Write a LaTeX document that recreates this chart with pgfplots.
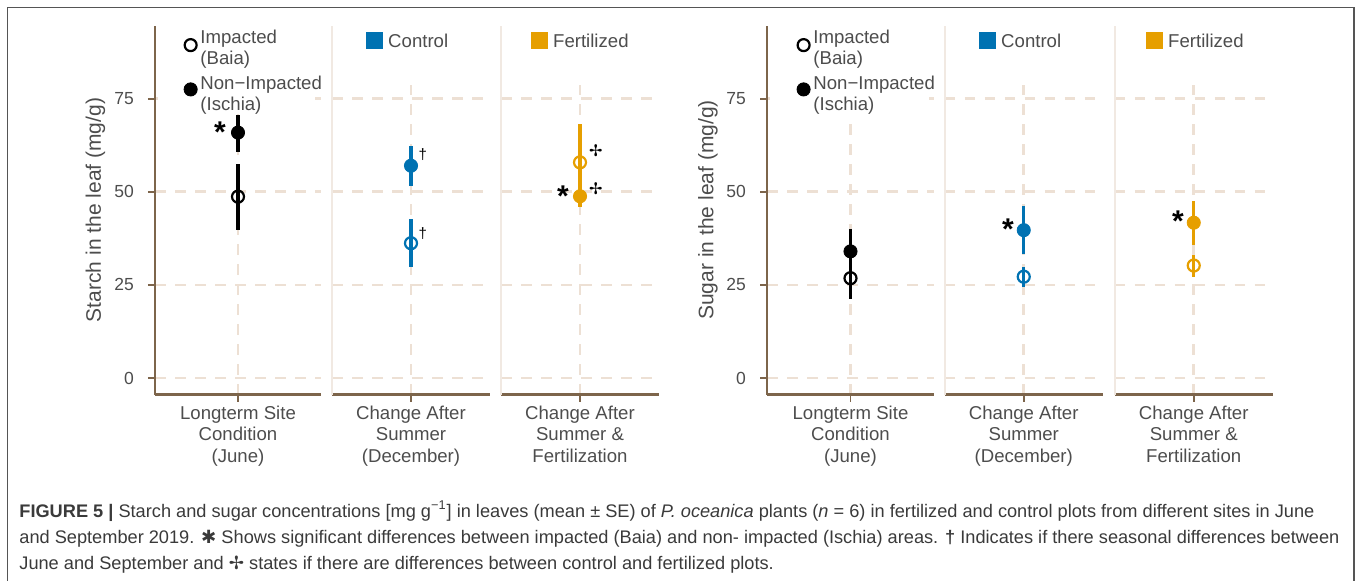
\documentclass[border=0pt]{standalone}
\usepackage{fontspec}
\setmainfont{Liberation Sans}
\newfontfamily\dejavu{DejaVu Sans}
\newfontfamily\capfont{Liberation Sans}
\usepackage{pgfplots}
\pgfplotsset{compat=1.18}

\definecolor{txt}{HTML}{4D4D4D}
\definecolor{axbrown}{HTML}{7D654B}
\definecolor{gridc}{HTML}{EDE0D4}
\definecolor{sepc}{HTML}{F1E9E2}
\definecolor{ctrl}{HTML}{0072B2}
\definecolor{fert}{HTML}{E69F00}
\definecolor{captxt}{HTML}{3A3A3A}
\definecolor{framec}{HTML}{555555}

\pgfplotsset{
  panel/.style={
    scale only axis, width=#1, height=184.35pt, anchor=south west,
    xmin=0.4, xmax=1.6, ymin=-4.48, ymax=94.52,
    axis x line*=bottom, axis y line*=left, axis line style={-},
    x axis line style={color=axbrown, line width=1.2pt},
    y axis line style={color=axbrown, line width=0.9pt},
    xtick={1}, ytick={0,25,50,75},
    tick align=outside, major tick length=3.5pt,
    tick style={color=axbrown, line width=0.9pt},
    xmajorgrids, ymajorgrids,
    major grid style={color=gridc, line width=1.3pt, dash pattern=on 5.25pt off 4.75pt},
    /pgf/number format/assume math mode=true,
    xticklabel style={align=center, font=\fontsize{9.3}{10.8}\selectfont, text=txt, yshift=1.5pt},
    yticklabel style={font=\fontsize{8.75}{10}\selectfont, text=txt, xshift=-3.5pt},
    clip=false,
    legend cell align=left,
    legend style={draw=none, fill=none, inner sep=0pt, outer sep=0pt,
      font=\fontsize{9.3}{10.5}\selectfont, text=txt, nodes={inner sep=0pt}},
  },
  inner/.style={y axis line style={color=sepc, line width=1pt},
    yticklabels={}, y tick style={draw=none}},
  ptimg/.style={legend image code/.code={\draw[##1] plot coordinates {(0pt,0pt)};}},
  ebar/.style={/pgfplots/error bars/y dir=both, /pgfplots/error bars/y explicit,
    /pgfplots/error bars/error mark=none,
    /pgfplots/error bars/error bar style={line width=1.7pt, color=#1}},
  openpt/.style={only marks, mark=o, mark size=3pt, color=#1,
    mark options={line width=1.1pt, draw=#1, fill=none}, ebar=#1},
  fullpt/.style={only marks, mark=*, mark size=3.3pt, color=#1,
    mark options={draw=#1, fill=#1}, ebar=#1},
  sitelegend/.style={legend style={at={(axis cs:#1,93.75)}, anchor=north west, row sep=8.5pt,
    /tikz/every odd column/.append style={column sep=1.6pt}}},
  trtlegend/.style={legend style={at={(axis cs:#1,92.82)}, anchor=north west,
    /tikz/every odd column/.append style={column sep=2.8pt}}},
}
\tikzset{
  star/.style={font=\fontsize{15}{15}\selectfont\bfseries, anchor=base, yshift=-8.5pt, inner sep=0pt},
  dag/.style={font=\fontsize{7.5}{8}\selectfont, anchor=center, inner sep=0pt},
  cross/.style={font=\dejavu\fontsize{8}{8}\selectfont, anchor=center, inner sep=0pt},
}

\begin{document}
\begin{tikzpicture}
\useasboundingbox (0pt,0pt) rectangle (678.5pt,290.5pt);
\draw[color=framec, line width=0.75pt] (3.75pt,-5pt) -- (3.75pt,286.75pt) -- (677pt,286.75pt) -- (677pt,-5pt);

% ---------------- Starch ----------------
\begin{axis}[panel=83pt, at={(77.5pt,93.15pt)},
  xticklabels={{Longterm Site\\Condition\\(June)}}, sitelegend=0.61]
\fill[white] (axis cs:0.42,71) rectangle (axis cs:1.55,94.52);
\addplot[forget plot, openpt=black] coordinates {(1,48.7) += (0,8.8) -= (0,9.0)};
\addplot[forget plot, fullpt=black] coordinates {(1,65.9) += (0,4.7) -= (0,5.1)};
\node[star] at (axis cs:0.87,67.9) {*};
\addlegendimage{ptimg, mark=o, mark size=3pt, black, line width=1.1pt, yshift=-1pt}
\addlegendentry{\begin{tabular}{@{}l@{}}Impacted\\(Baia)\end{tabular}}
\addlegendimage{ptimg, mark=*, mark size=3.3pt, black, yshift=-0.4pt}
\addlegendentry{\begin{tabular}{@{}l@{}}Non−Impacted\\(Ischia)\end{tabular}}
\end{axis}

\begin{axis}[panel=79pt, inner, at={(166pt,93.15pt)},
  xticklabels={{Change After\\Summer\\(December)}}, trtlegend=0.663]
\fill[white] (axis cs:0.42,78.7) rectangle (axis cs:1.6,94.52);
\addplot[forget plot, openpt=ctrl] coordinates {(1,36.2) += (0,6.4) -= (0,6.5)};
\addplot[forget plot, fullpt=ctrl] coordinates {(1,57.0) += (0,5.2) -= (0,5.4)};
\node[dag] at (axis cs:1.09,59.9) {†};
\node[dag] at (axis cs:1.09,38.9) {†};
\addlegendimage{ptimg, mark=square*, mark size=4pt, ctrl, yshift=1.05pt}
\addlegendentry{Control}
\end{axis}

\begin{axis}[panel=79pt, inner, at={(250.5pt,93.15pt)},
  xticklabels={{Change After\\Summer \&\\Fertilization}}, trtlegend=0.632]
\fill[white] (axis cs:0.42,78.7) rectangle (axis cs:1.6,94.52);
\addplot[forget plot, openpt=fert] coordinates {(1,57.9) += (0,10.4) -= (0,10.4)};
\addplot[forget plot, fullpt=fert] coordinates {(1,48.8) += (0,3.0) -= (0,3.0)};
\node[cross] at (axis cs:1.12,61.0) {✢};
\node[cross] at (axis cs:1.12,50.8) {✢};
\node[star] at (axis cs:0.87,50.5) {*};
\addlegendimage{ptimg, mark=square*, mark size=4pt, fert, yshift=1.05pt}
\addlegendentry{Fertilized}
\end{axis}

\node[rotate=90, font=\fontsize{10.5}{12}\selectfont, text=txt] at (47.7pt,185.5pt) {Starch in the leaf (mg/g)};

% ---------------- Sugar ----------------
\begin{axis}[panel=83.5pt, at={(383.5pt,93.15pt)},
  xticklabels={{Longterm Site\\Condition\\(June)}}, sitelegend=0.6156]
\fill[white] (axis cs:0.42,70) rectangle (axis cs:1.566,94.52);
\addplot[forget plot, openpt=black] coordinates {(1,26.8) += (0,5.6) -= (0,5.6)};
\addplot[forget plot, fullpt=black] coordinates {(1,34.0) += (0,6.1) -= (0,6.1)};
\addlegendimage{ptimg, mark=o, mark size=3pt, black, line width=1.1pt, yshift=-1pt}
\addlegendentry{\begin{tabular}{@{}l@{}}Impacted\\(Baia)\end{tabular}}
\addlegendimage{ptimg, mark=*, mark size=3.3pt, black, yshift=-0.4pt}
\addlegendentry{\begin{tabular}{@{}l@{}}Non−Impacted\\(Ischia)\end{tabular}}
\end{axis}

\begin{axis}[panel=79.25pt, inner, at={(472.25pt,93.15pt)},
  xticklabels={{Change After\\Summer\\(December)}}, trtlegend=0.666]
\fill[white] (axis cs:0.42,78.7) rectangle (axis cs:1.6,94.52);
\addplot[forget plot, openpt=ctrl] coordinates {(1,27.2) += (0,2.7) -= (0,2.7)};
\addplot[forget plot, fullpt=ctrl] coordinates {(1,39.7) += (0,6.6) -= (0,6.5)};
\node[star] at (axis cs:0.88,41.7) {*};
\addlegendimage{ptimg, mark=square*, mark size=4pt, ctrl, yshift=1.05pt}
\addlegendentry{Control}
\end{axis}

\begin{axis}[panel=79.25pt, inner, at={(557.25pt,93.15pt)},
  xticklabels={{Change After\\Summer \&\\Fertilization}}, trtlegend=0.643]
\fill[white] (axis cs:0.42,78.7) rectangle (axis cs:1.6,94.52);
\addplot[forget plot, openpt=fert] coordinates {(1,30.2) += (0,2.8) -= (0,3.0)};
\addplot[forget plot, fullpt=fert] coordinates {(1,41.7) += (0,5.9) -= (0,6.0)};
\node[star] at (axis cs:0.88,43.8) {*};
\addlegendimage{ptimg, mark=square*, mark size=4pt, fert, yshift=1.05pt}
\addlegendentry{Fertilized}
\end{axis}

\node[rotate=90, font=\fontsize{10.5}{12}\selectfont, text=txt] at (354pt,185.5pt) {Sugar in the leaf (mg/g)};

% ---------------- caption ----------------
\begin{scope}[every node/.style={anchor=base west, inner sep=0pt, text=captxt,
    font=\capfont\fontsize{9.1}{10}\selectfont}]
\node at (9.5pt,31.75pt) {\textbf{FIGURE 5 |} Starch and sugar concentrations [mg g\textsuperscript{−1}] in leaves (mean ± SE) of \textit{P. oceanica} plants (\textit{n} = 6) in fertilized and control plots from different sites in June};
\node at (9.5pt,18.5pt) {and September 2019. {\dejavu\bfseries ✱} Shows significant differences between impacted (Baia) and non- impacted (Ischia) areas. \textbf{†} Indicates if there seasonal differences between};
\node at (9.5pt,5.75pt) {June and September and {\dejavu ✢} states if there are differences between control and fertilized plots.};
\end{scope}
\end{tikzpicture}
\end{document}
